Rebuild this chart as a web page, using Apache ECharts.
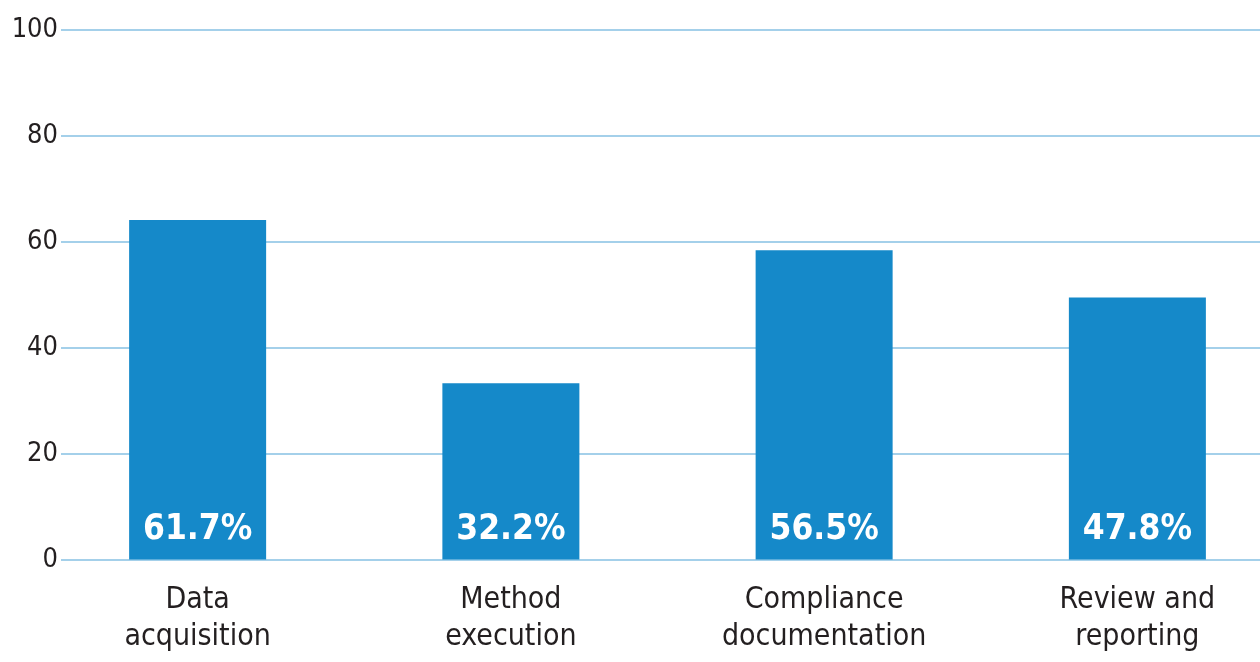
<!DOCTYPE html>
<html><head><meta charset="utf-8">
<script src="https://cdn.jsdelivr.net/npm/echarts@6/dist/echarts.min.js"></script>
<style>html,body{margin:0;padding:0;background:#fff;overflow:hidden;width:1260px;height:662px}#c{width:1300px;height:662px}</style>
</head><body><div id="c"></div>
<script>
const categories = ['Data\nacquisition', 'Method\nexecution', 'Compliance\ndocumentation', 'Review and\nreporting'];
const barHeights = [64.1, 33.3, 58.4, 49.5];
const barLabels = ['61.7%', '32.2%', '56.5%', '47.8%'];
const yTicks = [0, 20, 40, 60, 80, 100];

const FONT = '"DejaVu Sans Condensed", "Liberation Sans Narrow", sans-serif';
const chart = echarts.init(document.getElementById('c'));
chart.setOption({
  animation: false,
  grid: [
    {left: 61, right: 40, top: 30, bottom: 102.5},
    {left: 41, width: 1253, top: 30, bottom: 102.5}
  ],
  xAxis: [
    {gridIndex: 0, type: 'value', show: false, min: 0, max: 1},
    {gridIndex: 1, type: 'category', data: categories,
     axisLine: {show: false}, axisTick: {show: false},
     axisLabel: {color: '#231f20', fontFamily: FONT, fontSize: 30, lineHeight: 37, margin: 22, interval: 0}}
  ],
  yAxis: [
    {gridIndex: 0, type: 'value', min: yTicks[0], max: yTicks[yTicks.length - 1], interval: 20,
     axisLine: {show: false}, axisTick: {show: false},
     axisLabel: {color: '#231f20', fontFamily: FONT, fontSize: 27, margin: 3},
     splitLine: {lineStyle: {color: '#86c1e3', width: 1.5}}},
    {gridIndex: 1, type: 'value', min: 0, max: 100, show: false, splitLine: {show: false}}
  ],
  series: [{
    type: 'bar', xAxisIndex: 1, yAxisIndex: 1,
    data: barHeights, barWidth: 137,
    itemStyle: {color: '#1589c9'},
    label: {show: true, position: 'insideBottom', distance: 12,
      formatter: p => barLabels[p.dataIndex],
      color: '#fff', fontFamily: FONT, fontWeight: 'bold', fontSize: 35}
  }]
});
</script></body></html>
